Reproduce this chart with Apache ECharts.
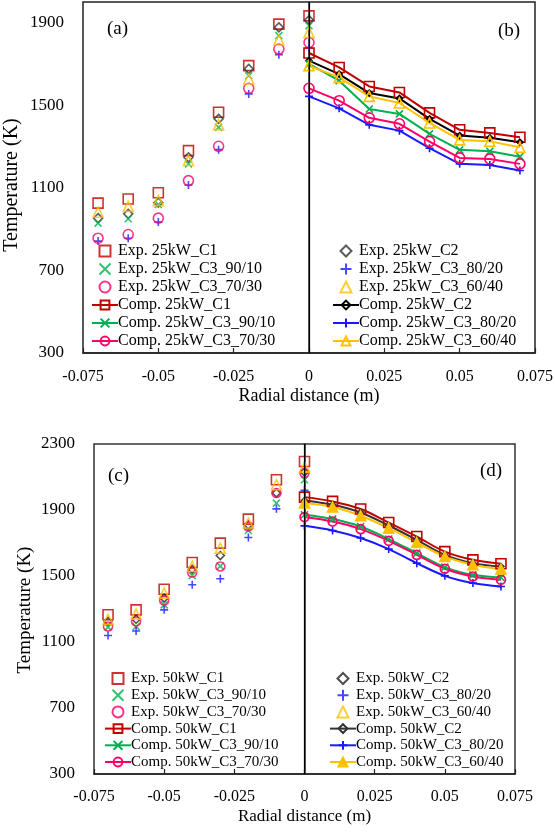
<!DOCTYPE html>
<html>
<head>
<meta charset="utf-8">
<script src="https://cdn.jsdelivr.net/npm/echarts@6/dist/echarts.min.js"></script>
<style>
html,body{margin:0;padding:0;background:#fff;}
#chart{width:555px;height:832px;}
</style>
</head>
<body>
<div id="chart"></div>
<script>
// ---- data ----
const xExp = [-0.07, -0.06, -0.05, -0.04, -0.03, -0.02, -0.01, 0];
const xComp = [0, 0.01, 0.02, 0.03, 0.04, 0.05, 0.06, 0.07];
const xTickLabels = ['-0.075', '-0.05', '-0.025', '0', '0.025', '0.05', '0.075'];
const yTicksTop = [300, 700, 1100, 1500, 1900];
const yTicksBottom = [300, 700, 1100, 1500, 1900, 2300];

// 25 kW experimental (x = xExp)
const exp25_C1 = [1026, 1046, 1076, 1280, 1466, 1692, 1893, 1933];
const exp25_C2 = [953, 974, 1028, 1248, 1434, 1676, 1877, 1912];
const exp25_90_10 = [929, 950, 1019, 1216, 1393, 1643, 1837, 1885];
const exp25_80_20 = [842, 856, 934, 1114, 1285, 1555, 1745, 1777];
const exp25_70_30 = [856, 874, 953, 1135, 1301, 1582, 1772, 1804];
const exp25_60_40 = [982, 1010, 1038, 1232, 1406, 1627, 1816, 1853];
// 25 kW computed (x = xComp)
const comp25_C1 = [1753, 1683, 1591, 1562, 1463, 1381, 1366, 1345];
const comp25_C2 = [1716, 1651, 1559, 1533, 1434, 1353, 1342, 1321];
const comp25_90_10 = [1700, 1619, 1482, 1458, 1361, 1284, 1277, 1251];
const comp25_80_20 = [1543, 1485, 1405, 1377, 1292, 1216, 1211, 1184];
const comp25_70_30 = [1582, 1522, 1439, 1410, 1324, 1245, 1240, 1216];
const comp25_60_40 = [1692, 1635, 1543, 1511, 1414, 1332, 1325, 1296];

// 50 kW experimental
const exp50_C1 = [1265, 1295, 1420, 1582, 1699, 1845, 2083, 2194];
const exp50_C2 = [1225, 1238, 1366, 1540, 1624, 1810, 2003, 2130];
const exp50_90_10 = [1190, 1194, 1325, 1503, 1560, 1776, 1942, 2083];
const exp50_80_20 = [1139, 1167, 1295, 1447, 1483, 1733, 1907, 2019];
const exp50_70_30 = [1194, 1224, 1351, 1521, 1558, 1800, 2003, 2124];
const exp50_60_40 = [1238, 1269, 1396, 1558, 1669, 1821, 2053, 2160];
// 50 kW computed
const comp50_C1 = [1978, 1952, 1906, 1824, 1739, 1648, 1598, 1574];
const comp50_C2 = [1958, 1932, 1885, 1806, 1719, 1628, 1578, 1557];
const comp50_90_10 = [1871, 1845, 1800, 1724, 1639, 1554, 1507, 1491];
const comp50_80_20 = [1804, 1776, 1730, 1663, 1578, 1501, 1457, 1436];
const comp50_70_30 = [1857, 1830, 1784, 1713, 1628, 1544, 1497, 1477];
const comp50_60_40 = [1942, 1918, 1865, 1790, 1703, 1618, 1568, 1542];

// ---- styling ----
const FONT = '"Liberation Serif", "Times New Roman", serif';
const COL = {C1: '#C00000', C2: '#000000', g: '#00B050', b: '#1a1aff', p: '#FF0066', y: '#FFC000'};
const SYM = {
  rect: 'path://M0,0L10,0L10,10L0,10Z',
  circle: 'path://M0,5A5,5,0,1,1,10,5A5,5,0,1,1,0,5Z',
  tri: 'path://M5,0L10,10L0,10Z',
  diamond: 'path://M5,0L10,5L5,10L0,5Z',
  x: 'path://M0,0L10,10M10,0L0,10',
  plus: 'path://M5,0L5,10M0,5L10,5'
};

function pairs(xs, ys) { return xs.map((x, i) => [x, ys[i]]); }

function expSeries(name, ys, color, sym, size, gi) {
  return {
    name, type: 'scatter', xAxisIndex: gi, yAxisIndex: gi,
    data: pairs(xExp, ys), symbol: SYM[sym], symbolSize: size, symbolKeepAspect: true,
    itemStyle: {color: 'rgba(0,0,0,0)', borderColor: color, borderWidth: 1.6},
    z: 3, silent: true
  };
}
function compSeries(name, ys, color, sym, size, gi, smooth, fill) {
  return {
    name, type: 'line', xAxisIndex: gi, yAxisIndex: gi,
    data: pairs(xComp, ys), symbol: SYM[sym], symbolSize: size, showSymbol: true, symbolKeepAspect: true,
    smooth: smooth ? 0.35 : false,
    lineStyle: {color, width: 2},
    itemStyle: {color: fill || 'rgba(0,0,0,0)', borderColor: color, borderWidth: 1.6},
    z: 4, silent: true
  };
}

const series = [
  // top
  expSeries('Exp. 25kW_C1', exp25_C1, COL.C1, 'rect', 10, 0),
  expSeries('Exp. 25kW_C2', exp25_C2, '#333', 'diamond', 9, 0),
  expSeries('Exp. 25kW_C3_90/10', exp25_90_10, COL.g, 'x', 7, 0),
  expSeries('Exp. 25kW_C3_80/20', exp25_80_20, COL.b, 'plus', 8, 0),
  expSeries('Exp. 25kW_C3_70/30', exp25_70_30, COL.p, 'circle', 10, 0),
  expSeries('Exp. 25kW_C3_60/40', exp25_60_40, COL.y, 'tri', 10, 0),
  compSeries('Comp. 25kW_C1', comp25_C1, COL.C1, 'rect', 10, 0),
  compSeries('Comp. 25kW_C2', comp25_C2, COL.C2, 'diamond', 6, 0),
  compSeries('Comp. 25kW_C3_90/10', comp25_90_10, COL.g, 'x', 7, 0),
  compSeries('Comp. 25kW_C3_80/20', comp25_80_20, COL.b, 'plus', 8, 0),
  compSeries('Comp. 25kW_C3_70/30', comp25_70_30, COL.p, 'circle', 10, 0),
  compSeries('Comp. 25kW_C3_60/40', comp25_60_40, COL.y, 'tri', 10, 0),
  // bottom
  expSeries('Exp. 50kW_C1', exp50_C1, COL.C1, 'rect', 10, 1),
  expSeries('Exp. 50kW_C2', exp50_C2, '#222', 'diamond', 8, 1),
  expSeries('Exp. 50kW_C3_90/10', exp50_90_10, COL.g, 'x', 7, 1),
  expSeries('Exp. 50kW_C3_80/20', exp50_80_20, COL.b, 'plus', 8, 1),
  expSeries('Exp. 50kW_C3_70/30', exp50_70_30, COL.p, 'circle', 9, 1),
  expSeries('Exp. 50kW_C3_60/40', exp50_60_40, COL.y, 'tri', 10, 1),
  compSeries('Comp. 50kW_C1', comp50_C1, COL.C1, 'rect', 10, 1, true),
  compSeries('Comp. 50kW_C2', comp50_C2, '#333', 'diamond', 6, 1, true),
  compSeries('Comp. 50kW_C3_90/10', comp50_90_10, COL.g, 'x', 7, 1, true),
  compSeries('Comp. 50kW_C3_80/20', comp50_80_20, COL.b, 'plus', 8, 1, true),
  compSeries('Comp. 50kW_C3_70/30', comp50_70_30, COL.p, 'circle', 9, 1, true),
  compSeries('Comp. 50kW_C3_60/40', comp50_60_40, COL.y, 'tri', 10, 1, true, COL.y)
];

// vertical zero lines
[0, 12].forEach(i => {
  series[i].markLine = {
    silent: true, symbol: 'none', label: {show: false},
    lineStyle: {color: '#000', width: 1.2, type: 'solid'},
    data: [{xAxis: 0}], animation: false
  };
});

function xAxisCfg(gi, nameSize, labelMargin) {
  return {
    type: 'value', gridIndex: gi, min: -0.075, max: 0.075, interval: 0.025,
    name: 'Radial distance (m)', nameLocation: 'middle', nameGap: 34,
    nameTextStyle: {fontFamily: FONT, fontSize: nameSize, color: '#000'},
    axisLine: {show: true, onZero: false, lineStyle: {color: '#222', width: 1.5}},
    axisTick: {show: true, inside: true, length: 5, lineStyle: {color: '#222', width: 1.2}},
    axisLabel: {
      fontFamily: FONT, fontSize: 16, color: '#000', margin: labelMargin,
      formatter: v => {
        const idx = Math.round((v + 0.075) / 0.025);
        return xTickLabels[idx] !== undefined ? xTickLabels[idx] : '';
      }
    },
    splitLine: {show: false}
  };
}
function yAxisCfg(gi, max, ticks) {
  return {
    type: 'value', gridIndex: gi, min: ticks[0], max, interval: ticks[1] - ticks[0],
    axisLine: {show: true, lineStyle: {color: '#222', width: 1.5}},
    axisTick: {show: false},
    axisLabel: {
      fontFamily: FONT, fontSize: 17, color: '#000', margin: 19, showMaxLabel: ticks.includes(max),
      formatter: v => ticks.includes(v) ? String(v) : ''
    },
    splitLine: {show: false}
  };
}

function legendCfg(names, left, top, fs, gap) {
  return {
    data: names, orient: 'vertical', left, top,
    itemWidth: 26, itemHeight: 11, itemGap: gap,
    selectedMode: false, symbolKeepAspect: true,
    textStyle: {fontFamily: FONT, fontSize: fs, color: '#000', padding: [0, 0, 0, -5]}
  };
}

const option = {
  animation: false,
  backgroundColor: '#fff',
  grid: [
    {left: 83, top: 2, width: 452, height: 351, show: true, borderColor: '#222', borderWidth: 1.5, backgroundColor: 'transparent', containLabel: false, outerBoundsMode: 'none'},
    {left: 94, top: 444, width: 421, height: 330, show: true, borderColor: '#333', borderWidth: 1.5, backgroundColor: 'transparent', containLabel: false, outerBoundsMode: 'none'}
  ],
  xAxis: [xAxisCfg(0, 18, 16), xAxisCfg(1, 17, 15)],
  yAxis: [yAxisCfg(0, 2000, yTicksTop), yAxisCfg(1, 2300, yTicksBottom)],
  legend: [
    legendCfg(['Exp. 25kW_C1', 'Exp. 25kW_C3_90/10', 'Exp. 25kW_C3_70/30', 'Comp. 25kW_C1', 'Comp. 25kW_C3_90/10', 'Comp. 25kW_C3_70/30'], 86, 238, 16, 2),
    legendCfg(['Exp. 25kW_C2', 'Exp. 25kW_C3_80/20', 'Exp. 25kW_C3_60/40', 'Comp. 25kW_C2', 'Comp. 25kW_C3_80/20', 'Comp. 25kW_C3_60/40'], 327, 238, 16, 2),
    legendCfg(['Exp. 50kW_C1', 'Exp. 50kW_C3_90/10', 'Exp. 50kW_C3_70/30', 'Comp. 50kW_C1', 'Comp. 50kW_C3_90/10', 'Comp. 50kW_C3_70/30'], 99, 666, 15, 1.7),
    legendCfg(['Exp. 50kW_C2', 'Exp. 50kW_C3_80/20', 'Exp. 50kW_C3_60/40', 'Comp. 50kW_C2', 'Comp. 50kW_C3_80/20', 'Comp. 50kW_C3_60/40'], 324, 666, 15, 1.7)
  ],
  graphic: [
    {type: 'text', left: 107, top: 20, style: {text: '(a)', font: '19px ' + FONT, fill: '#000'}},
    {type: 'text', left: 498, top: 22, style: {text: '(b)', font: '19px ' + FONT, fill: '#000'}},
    {type: 'text', left: 108, top: 467, style: {text: '(c)', font: '19px ' + FONT, fill: '#000'}},
    {type: 'text', left: 480, top: 462, style: {text: '(d)', font: '19px ' + FONT, fill: '#000'}},
    {type: 'text', x: 12, y: 185, rotation: Math.PI / 2,
     style: {text: 'Temperature (K)', font: '20px ' + FONT, fill: '#000', align: 'center', verticalAlign: 'middle'}},
    {type: 'text', x: 25, y: 610, rotation: Math.PI / 2,
     style: {text: 'Temperature (K)', font: '19px ' + FONT, fill: '#000', align: 'center', verticalAlign: 'middle'}}
  ],
  series
};

const chart = echarts.init(document.getElementById('chart'), null, {renderer: 'canvas'});
chart.setOption(option);
</script>
</body>
</html>
